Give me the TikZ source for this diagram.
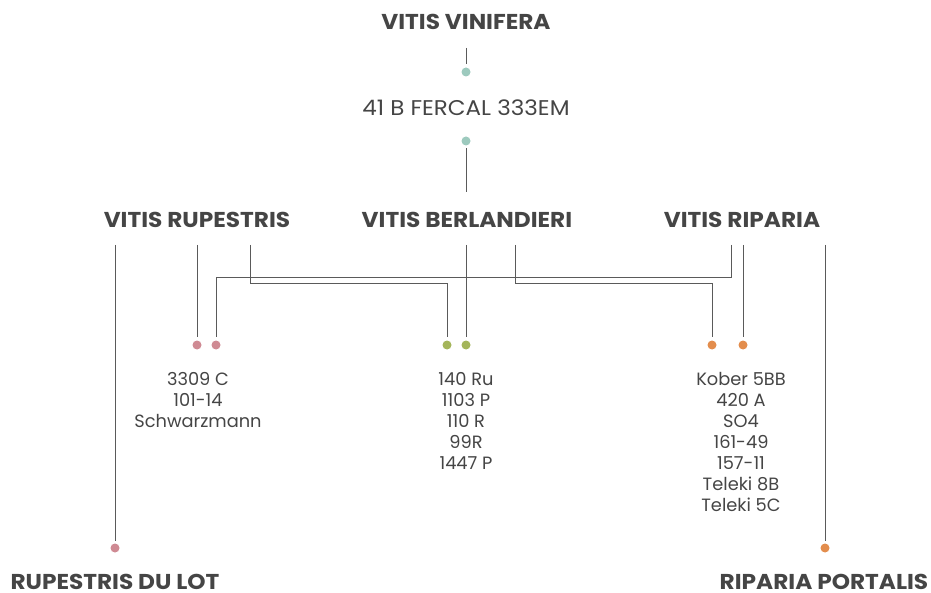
\documentclass[tikz,border=0pt]{standalone}
\usepackage{fontspec}
\setmainfont{Poppins}
\newfontfamily\widefont{Poppins}[FakeStretch=1.08]
\usetikzlibrary{positioning}

\definecolor{txtgray}{HTML}{454545}
\definecolor{linegray}{HTML}{5A5A5A}
\definecolor{vincol}{HTML}{9DCABE}
\definecolor{rupcol}{HTML}{CF8A93}
\definecolor{bercol}{HTML}{A4B55A}
\definecolor{ripcol}{HTML}{E38D4D}

\tikzset{
  head/.style={font=\widefont\bfseries\fontsize{21.5}{24}\selectfont, text=txtgray, inner sep=0pt},
  cross/.style={font=\widefont\fontsize{21.3}{24}\selectfont, text=txtgray, inner sep=0pt},
  variety/.style={align=center, anchor=north, font=\fontsize{17.8}{21}\selectfont, text=txtgray, inner sep=0pt},
  dot/.style={circle, fill=#1, inner sep=0pt, minimum size=9pt, outer sep=3pt},
  link/.style={draw=linegray, line width=1pt},
}

\begin{document}
\begin{tikzpicture}[x=1pt, y=-1pt]

    \useasboundingbox (0,0) rectangle (931,593);

    % top of the tree
    \node[head] (vinifera) at (466,22) {VITIS VINIFERA};
    \node[dot=vincol] (vindot) at (466,72) {};
    \node[cross] (fercal) at (466,108) {41 B FERCAL 333EM};
    \node[dot=vincol] (fercaldot) at (466,141) {};

    % the three species
    \node[head] (rupestris) at (197,220) {VITIS RUPESTRIS};
    \node[head] (berlandieri) at (467,220) {VITIS BERLANDIERI};
    \node[head] (riparia) at (742,220) {VITIS RIPARIA};

    % dots of the hybrids
    \node[dot=rupcol] (rupA) at (197,345) {};
    \node[dot=rupcol] (rupB) at (216,345) {};
    \node[dot=bercol] (berA) at (447,345) {};
    \node[dot=bercol] (berB) at (466,345) {};
    \node[dot=ripcol] (ripA) at (712,345) {};
    \node[dot=ripcol] (ripB) at (743,345) {};
    \node[dot=rupcol] (lotdot) at (115,548) {};
    \node[dot=ripcol] (portdot) at (825,548) {};

    % free ends of the lines
    \coordinate (vinend) at (466,48);
    \coordinate (fercalend) at (466,192);
    \coordinate (rupL) at (115,245);
    \coordinate (rupM) at (197,245);
    \coordinate (rupR) at (250,245);
    \coordinate (berM) at (466,245);
    \coordinate (berR) at (515,245);
    \coordinate (ripL) at (731,245);
    \coordinate (ripM) at (743,245);
    \coordinate (ripR) at (825,245);

    \draw[link] (vinend) -- (vindot);
    \draw[link] (fercaldot) -- (fercalend);

    \draw[link] (rupL) -- (lotdot);
    \draw[link] (rupM) -- (rupA);
    \draw[link] (ripL) -- ++(0,33) -| (rupB);
    \draw[link] (rupR) -- ++(0,39) -| (berA);
    \draw[link] (berM) -- (berB);
    \draw[link] (berR) -- ++(0,39) -| (ripA);
    \draw[link] (ripM) -- (ripB);
    \draw[link] (ripR) -- (portdot);

    % varieties
    \node[variety] (ruplist) at (198,372.5) {3309 C\\101-14\\Schwarzmann};
    \node[variety] (berlist) at (466,372.5) {140 Ru\\1103 P\\110 R\\99R\\1447 P};
    \node[variety] (riplist) at (741,372.5) {Kober 5BB\\420 A\\SO4\\161-49\\157-11\\Teleki 8B\\Teleki 5C};

    \node[head] (lot) at (115,582) {RUPESTRIS DU LOT};
    \node[head] (portalis) at (824,582) {RIPARIA PORTALIS};

\end{tikzpicture}
\end{document}
